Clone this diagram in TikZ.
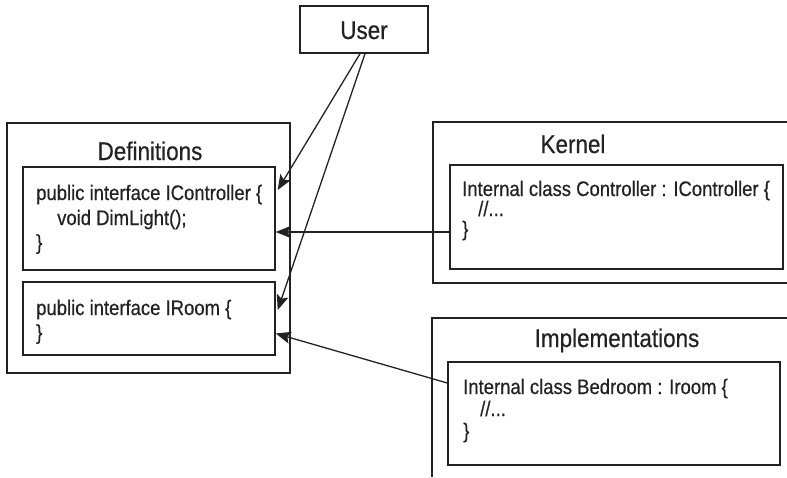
\documentclass[tikz,border=0pt]{standalone}
\usepackage{fontspec}
\setmainfont{Liberation Sans}[FakeStretch=0.88,FakeBold=0.5]
\usetikzlibrary{arrows.meta,calc}
\definecolor{ink}{HTML}{222222}
\tikzset{
  box/.style={draw=ink, line width=1.4pt, rectangle, inner sep=0pt},
  title/.style={anchor=base, inner sep=0pt, text=ink, font=\fontsize{25.5}{28}\selectfont},
  code/.style={anchor=base west, inner sep=0pt, text=ink, font=\fontsize{21}{24}\selectfont},
  arr/.style={draw=ink, line width=1.3pt, -{Stealth[length=15pt,width=12pt,inset=3pt]}},
  frame/.style={draw=ink, line width=1.4pt}
}
\begin{document}
\begin{tikzpicture}[x=1pt,y=-1pt]
\useasboundingbox (0,0) rectangle (787,477);
% boxes
\node[box, minimum width=128pt, minimum height=47pt] (user) at (364,29.5) {};
\node[title] (usert) at (364,39) {User};
\node[box, minimum width=283pt, minimum height=250pt] (defs) at (148.5,248) {};
\node[title] (defst) at (150,160) {Definitions};
\node[box, minimum width=252pt, minimum height=103pt] (ictrl) at (149,218.5) {};
\node[box, minimum width=252pt, minimum height=73pt] (iroom) at (149,318.5) {};
\node[code] (c1) at (36,200) {public interface IController \{};
\node[code] (c2) at (57,225) {void DimLight();};
\node[code] (c3) at (36,249.5) {\}};
\node[code] (r1) at (36,315) {public interface IRoom \{};
\node[code] (r2) at (36,339.5) {\}};
% kernel
\draw[frame] (787,122) -- (433,122) -- (433,283) -- (787,283);
\node[title] (kert) at (573,153) {Kernel};
\node[box, minimum width=333pt, minimum height=104pt] (kin) at (616.5,217) {};
\node[code] (k1) at (462,196) {Internal class Controller : IController \{};
\node[code] (k2) at (478,216) {//...};
\node[code] (k3) at (462,236) {\}};
% implementations
\draw[frame] (787,318) -- (432,318) -- (432,477);
\node[title] (impt) at (617,347) {Implementations};
\node[box, minimum width=332pt, minimum height=103pt] (iin) at (614,413.5) {};
\node[code] (m1) at (463,394) {Internal class Bedroom : Iroom \{};
\node[code] (m2) at (480,416) {//...};
\node[code] (m3) at (463,438) {\}};
% connectors
\draw[arr] ($(user.south)+(-4,0)$) -- ($(ictrl.east)+(2,-28.5)$);
\draw[arr] ($(user.south)+(1,0)$) -- ($(iroom.east)+(2,-8.5)$);
\draw[arr] ($(kin.west)+(0,15)$) -- ($(ictrl.east)+(0,13.5)$);
\draw[arr] ($(iin.west)+(0,-30.5)$) -- ($(iroom.east)+(0,15)$);
\end{tikzpicture}
\end{document}
